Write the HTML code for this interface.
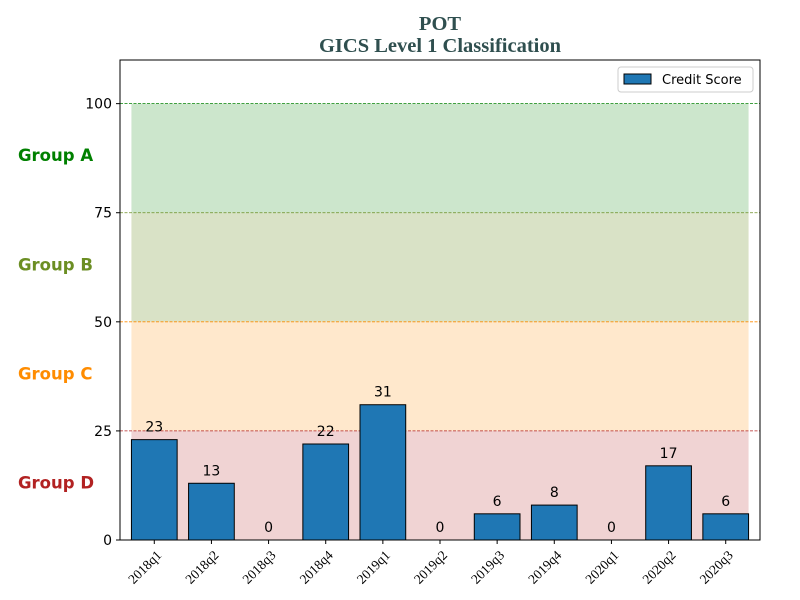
<!DOCTYPE html>
<html><head><meta charset="utf-8"><style>
body{margin:0;background:#fff}
svg{display:block}
</style></head><body>
<svg id="chart" width="800" height="600" xmlns="http://www.w3.org/2000/svg">
<text x="440" y="30" text-anchor="middle" font-family="Liberation Serif, serif" font-weight="bold" font-size="20.5" fill="#2f4f4f">POT</text>
<text x="440" y="52" text-anchor="middle" font-family="Liberation Serif, serif" font-weight="bold" font-size="20.5" fill="#2f4f4f">GICS Level 1 Classification</text>
<g id="bands"></g>
<g id="lines"></g>
<g id="bars"></g>
<g id="axes"></g>
<rect x="120" y="60" width="640" height="480" fill="none" stroke="#000" stroke-width="1"/>
<g>
<rect x="618" y="67" width="135" height="25" rx="3" fill="#fff" stroke="#ccc"/>
<rect x="624" y="74" width="27" height="10" fill="#1f77b4" stroke="#000"/>
<text x="662" y="84" font-family="DejaVu Sans, Liberation Sans, sans-serif" font-size="13" fill="#000">Credit Score</text>
</g>
</svg>
<script>
const categories=["2018q1","2018q2","2018q3","2018q4","2019q1","2019q2","2019q3","2019q4","2020q1","2020q2","2020q3"];
const values=[23,13,0,22,31,0,6,8,0,17,6];
const yTicks=[0,25,50,75,100];
const groupNames=["Group A","Group B","Group C","Group D"];
const groupLow=[75,50,25,0];
const groupHigh=[100,75,50,25];
const groupColors=["green","#6b8e23","darkorange","firebrick"];
const groupOpacity=[0.2,0.26,0.2,0.2];

const NS="http://www.w3.org/2000/svg";
const L=120,R=760,T=60,B=540;
const xMin=-0.6,xMax=categories.length-1+0.6,yMin=0,yMax=110;
const xs=v=>L+(v-xMin)/(xMax-xMin)*(R-L);
const ys=v=>B-(v-yMin)/(yMax-yMin)*(B-T);
const bw=0.8;
function mk(tag,attrs,parent){const e=document.createElementNS(NS,tag);for(const k in attrs)e.setAttribute(k,attrs[k]);parent.appendChild(e);return e;}
const svg=document.getElementById('chart');
const bands=document.getElementById('bands'),lines=document.getElementById('lines'),bars=document.getElementById('bars'),axes=document.getElementById('axes');
const bx0=xs(-bw/2),bx1=xs(categories.length-1+bw/2);
groupNames.forEach((g,i)=>{
  const r=mk('rect',{x:bx0,y:ys(groupHigh[i]),width:bx1-bx0,height:ys(groupLow[i])-ys(groupHigh[i]),fill:groupColors[i],'fill-opacity':groupOpacity[i]},bands);
  
  
  const ln=mk('line',{x1:L,x2:R,y1:ys(groupHigh[i]),y2:ys(groupHigh[i]),stroke:groupColors[i],'stroke-width':0.8,'stroke-dasharray':'3,1.5'},lines);
  
  
  const t=mk('text',{x:18,y:(ys(groupHigh[i])+ys(groupLow[i]))/2+3,'font-family':'DejaVu Sans, Liberation Sans, sans-serif','font-weight':'bold','font-size':16.5,fill:groupColors[i]},svg);
  t.textContent=g;
  
  
});
categories.forEach((c,i)=>{
  const x0=xs(i-bw/2),x1=xs(i+bw/2);
  const b=mk('rect',{x:x0,y:ys(values[i]),width:x1-x0,height:ys(0)-ys(values[i]),fill:'#1f77b4',stroke:'#000','stroke-width':1},bars);
  
  
  const v=mk('text',{x:xs(i),y:ys(values[i])-8,'text-anchor':'middle','font-family':'DejaVu Sans, Liberation Sans, sans-serif','font-size':14,fill:'#000'},bars);
  v.textContent=values[i];
  
  
  mk('line',{x1:xs(i),x2:xs(i),y1:B,y2:B+4,stroke:'#000'},axes);
  const t=mk('text',{x:0,y:0,'text-anchor':'end','font-family':'Liberation Serif, serif','font-size':13.5,fill:'#000',transform:`translate(${xs(i)+8},${B+16}) rotate(-45)`},axes);
  t.textContent=c;
  
  
});
yTicks.forEach(v=>{
  mk('line',{x1:L-4,x2:L,y1:ys(v),y2:ys(v),stroke:'#000'},axes);
  const t=mk('text',{x:L-8,y:ys(v)+5,'text-anchor':'end','font-family':'DejaVu Sans, Liberation Sans, sans-serif','font-size':14,fill:'#000'},axes);
  t.textContent=v;
  
  
});
</script>
</body></html>
